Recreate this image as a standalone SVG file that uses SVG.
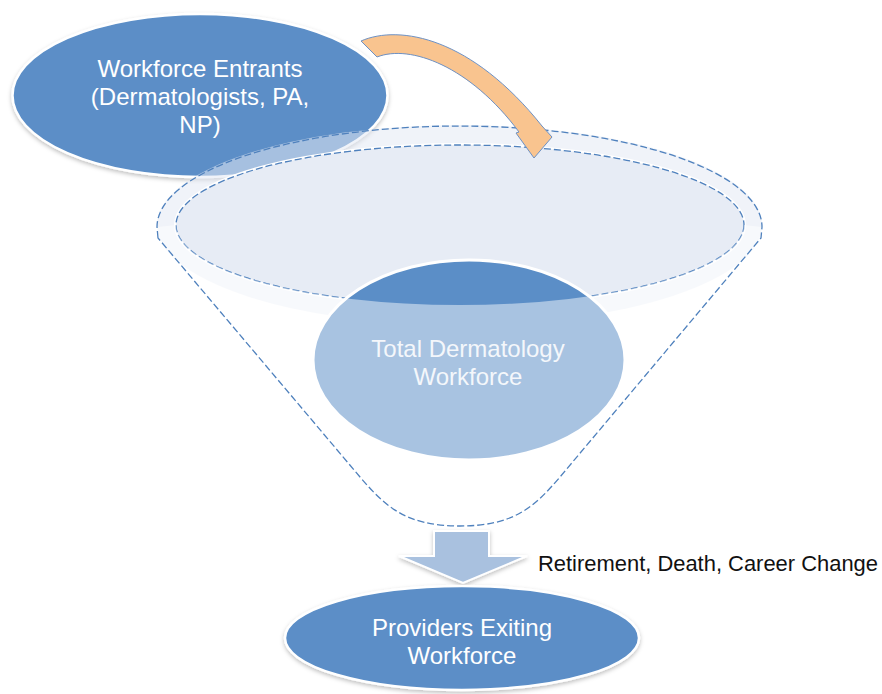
<svg xmlns="http://www.w3.org/2000/svg" width="882" height="694" viewBox="0 0 882 694">
<defs>
<style>
.node{fill:#5B8EC7;stroke:#ffffff;stroke-width:2.5}
.lbl{font-family:"Liberation Sans",Arial,sans-serif;font-size:24px;fill:#ffffff;text-anchor:middle}
.dash{fill:none;stroke:#4F81BD;stroke-width:1.3;stroke-dasharray:7 3}
.halo{fill:none;stroke:#ffffff;stroke-width:4}
</style>
<filter id="sh" x="-10%" y="-10%" width="120%" height="130%">
<feDropShadow dx="0" dy="2" stdDeviation="2" flood-color="#000000" flood-opacity="0.25"/>
</filter>
</defs>
<rect width="882" height="694" fill="#ffffff"/>

<g id="entrants">
<ellipse class="node" cx="200" cy="95.5" rx="187.5" ry="81.5" filter="url(#sh)"/>
<text class="lbl" x="200" y="77">Workforce Entrants</text>
<text class="lbl" x="200" y="105">(Dermatologists, PA,</text>
<text class="lbl" x="200" y="133">NP)</text>
</g>

<g id="funnel">
<ellipse cx="459.5" cy="225" rx="302.5" ry="100" fill="#E3EAF4" opacity="0.55"/>
<ellipse cx="460" cy="225" rx="284" ry="80" class="halo"/>
<ellipse cx="460" cy="225" rx="284" ry="80" fill="#E7ECF5"/>
<ellipse cx="460" cy="225" rx="284" ry="80" class="dash"/>
</g>

<g id="total">
<ellipse cx="469" cy="360" rx="156" ry="100" fill="#5B8EC7" stroke="#ffffff" stroke-width="3"/>
<path d="M157,238 L157,227 L176,225 A284 80 0 0 0 744,225 L762,227 L762,238 L560,477 C535,506 515,526 460,526 C405,526 385,506 360,477 Z" fill="#ffffff" opacity="0.47"/>
<text class="lbl" x="468" y="357" style="fill:#F4F7FB">Total Dermatology</text>
<text class="lbl" x="468" y="385" style="fill:#F4F7FB">Workforce</text>
</g>

<g id="connectors">
<path class="dash" d="M158,238 L157,227 A302.5 101 0 0 1 762,227 L761,238 L560,477 C535,506 515,526 460,526 C405,526 385,506 360,477 Z"/>
<path d="M361,41 C400,24 472,38 542,126 L552,137 L534,158 L516,133 L519,132 C470,66 410,44 377,57 Z" fill="#F9C48F" stroke="#6D91C4" stroke-width="1"/>
<path d="M434,531 L489,531 L489,556 L527,556 L463,583 L399,556 L434,556 Z" fill="#A9C1DF" stroke="#ffffff" stroke-width="2" filter="url(#sh)"/>
</g>

<g id="exiting">
<ellipse class="node" cx="462" cy="638" rx="177" ry="52" filter="url(#sh)"/>
<text class="lbl" x="462" y="636">Providers Exiting</text>
<text class="lbl" x="462" y="664">Workforce</text>
</g>

<g id="exit-label">
<text x="538" y="571" textLength="340" lengthAdjust="spacingAndGlyphs" style="font-family:'Liberation Sans',Arial,sans-serif;font-size:21.5px;fill:#111111">Retirement, Death, Career Change</text>
</g>
</svg>
